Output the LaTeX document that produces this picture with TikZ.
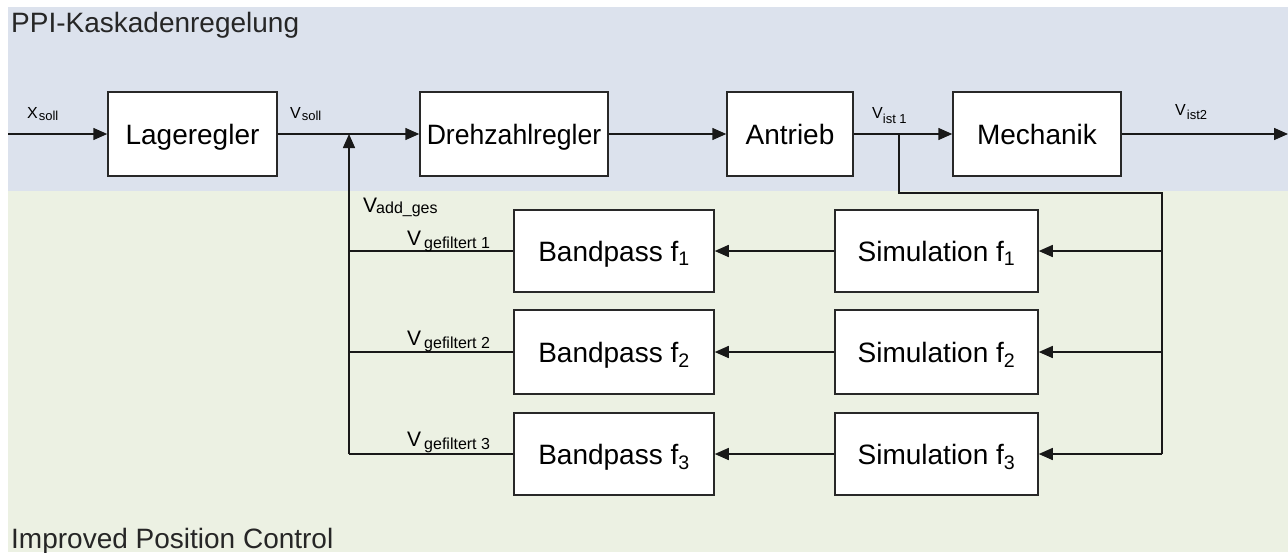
\documentclass[tikz,border=0pt]{standalone}
\usepackage{fontspec}
\setmainfont{Liberation Sans}
\usetikzlibrary{arrows.meta}
\definecolor{topband}{RGB}{220,226,237}
\definecolor{botband}{RGB}{236,241,227}
\definecolor{boxline}{RGB}{40,40,40}
\newcommand\lbl[6]{{\fontsize{#1}{#1}\selectfont #3}\kern#6pt\raisebox{-#5pt}{\fontsize{#2}{#2}\selectfont #4}}
\begin{document}
\begin{tikzpicture}[x=1pt,y=-1pt,
  block/.style={draw=boxline, fill=white, line width=1.5pt, inner sep=0pt,
    font=\fontsize{28}{30}\selectfont, text height=20pt, text depth=0pt},
  conn/.style={line width=1.5pt, draw=black!90},
  arr/.style={conn, -{Triangle[length=14pt,width=12pt]}},
  lab/.style={anchor=base west, inner sep=0pt},
  title/.style={anchor=base west, inner sep=0pt, font=\fontsize{28}{30}\selectfont, text=black!85}]
\useasboundingbox (0,0) rectangle (1288,552);
\fill[topband] (8,7) rectangle (1288,191);
\fill[botband] (8,191) rectangle (1288,552);
\node[title] (t1) at (11,32) {PPI-Kaskadenregelung};
\node[title] (t2) at (11,548) {Improved Position Control};
% blocks
\node[block, minimum width=169pt, minimum height=84pt] (lage) at (192.5,134) {Lageregler};
\node[block, minimum width=188pt, minimum height=84pt] (dreh) at (514,134) {\scalebox{0.95}[1]{Drehzahlregler}};
\node[block, minimum width=126pt, minimum height=84pt] (antr) at (790,134) {Antrieb};
\node[block, minimum width=168pt, minimum height=84pt] (mech) at (1037,134) {Mechanik};
\node[block, minimum width=200pt, minimum height=82pt] (bp1) at (614,251) {Bandpass f\textsubscript{1}};
\node[block, minimum width=203pt, minimum height=82pt] (sim1) at (936.5,251) {Simulation f\textsubscript{1}};
\node[block, minimum width=200pt, minimum height=84pt] (bp2) at (614,352) {Bandpass f\textsubscript{2}};
\node[block, minimum width=203pt, minimum height=84pt] (sim2) at (936.5,352) {Simulation f\textsubscript{2}};
\node[block, minimum width=200pt, minimum height=82pt] (bp3) at (614,454) {Bandpass f\textsubscript{3}};
\node[block, minimum width=203pt, minimum height=82pt] (sim3) at (936.5,454) {Simulation f\textsubscript{3}};
% coordinates
\coordinate (xin) at (8,134);
\coordinate (xout) at (1288,134);
\coordinate (j1) at (349,134);
\coordinate (j2) at (899,134);
\coordinate (c1) at (899,193);
\coordinate (c2) at (1162,193);
\coordinate (r1) at (1162,251);
\coordinate (r2) at (1162,352);
\coordinate (r3) at (1162,454);
\coordinate (l1) at (349,251);
\coordinate (l2) at (349,352);
\coordinate (l3) at (349,454);
% connectors
\draw[arr] (xin) -- (lage.west);
\draw[arr] (lage.east) -- (dreh.west);
\draw[arr] (dreh.east) -- (antr.west);
\draw[arr] (antr.east) -- (mech.west);
\draw[arr] (mech.east) -- (xout);
\draw[conn] (j2) -- (c1) -- (c2) -- (r3);
\draw[arr] (r1) -- (sim1.east);
\draw[arr] (r2) -- (sim2.east);
\draw[arr] (r3) -- (sim3.east);
\draw[arr] (sim1.west) -- (bp1.east);
\draw[arr] (sim2.west) -- (bp2.east);
\draw[arr] (sim3.west) -- (bp3.east);
\draw[conn] (bp1.west) -- (l1);
\draw[conn] (bp2.west) -- (l2);
\draw[conn] (bp3.west) -- (l3);
\draw[arr] (l3) -- (j1);
% labels
\node[lab] (lxs) at (27,118) {\lbl{16}{13}{X}{soll}{2}{1}};
\node[lab] (lvs) at (290,118) {\lbl{16}{13}{V}{soll}{2}{1}};
\node[lab] (lvi1) at (872,118) {\lbl{16}{13}{V}{ist 1}{5}{0}};
\node[lab] (lvi2) at (1175,115) {\lbl{16}{13}{V}{ist2}{4}{1}};
\node[lab] (lva) at (363,212) {\lbl{21}{16}{V}{add\_ges}{1}{-1}};
\node[lab] (lg1) at (407,245) {\lbl{21}{16}{V}{gefiltert 1}{3}{3}};
\node[lab] (lg2) at (407,345) {\lbl{21}{16}{V}{gefiltert 2}{3}{3}};
\node[lab] (lg3) at (407,446) {\lbl{21}{16}{V}{gefiltert 3}{3}{3}};
\end{tikzpicture}
\end{document}
